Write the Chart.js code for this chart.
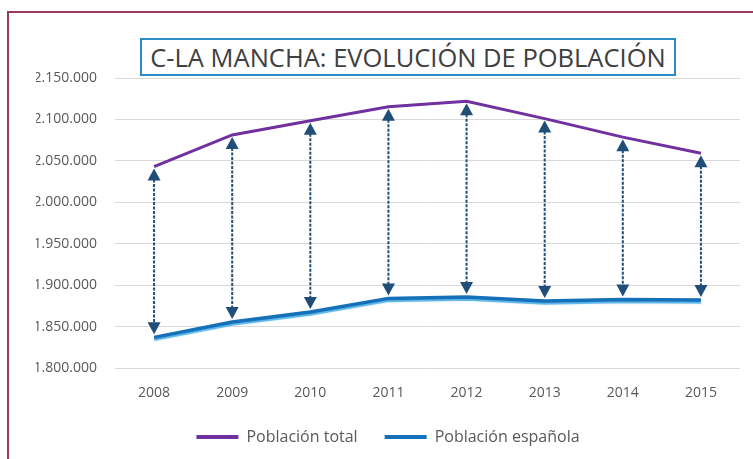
<!DOCTYPE html>
<html>
<head>
<meta charset="utf-8">
<script src="https://cdn.jsdelivr.net/npm/chart.js@4.4.1/dist/chart.umd.min.js"></script>
<style>
  html, body { margin: 0; padding: 0; background: #ffffff; }
  #wrap { position: relative; width: 753px; height: 459px; overflow: hidden; background: #fff; }
  #frameTop { position: absolute; left: 7px; top: 11px; width: 746px; height: 2px; background: #9c3a5c; }
  #frameLeft { position: absolute; left: 7px; top: 11px; width: 2px; height: 448px; background: #9c3a5c; }
  #title {
    position: absolute; left: 140px; top: 38px; width: 532px; height: 34px;
    border: 2px solid #2e8bc8; background: #fff;
    font-family: "Open Sans", sans-serif; font-size: 25.5px; color: #404040;
    text-align: center; line-height: 34px; white-space: nowrap; letter-spacing: 0px;
  }
  canvas { position: absolute; left: 0; top: 0; }
</style>
</head>
<body>
<div id="wrap">
  <canvas id="c" width="753" height="459"></canvas>
  <div id="frameTop"></div>
  <div id="frameLeft"></div>
  <div id="title">C-LA MANCHA: EVOLUCIÓN DE POBLACIÓN</div>
</div>
<script>
const years = ['2008', '2009', '2010', '2011', '2012', '2013', '2014', '2015'];
const poblacionTotal = [2043100, 2081313, 2098373, 2115334, 2121888, 2100998, 2078611, 2059191];
const poblacionEspanola = [1837000, 1855500, 1867600, 1884000, 1885700, 1880900, 1882800, 1882100];
const seriesNames = ['Población total', 'Población española'];
const yMin = 1800000, yMax = 2150000, yStep = 50000;

function fmt(v) {
  return String(Math.round(v)).replace(/\B(?=(\d{3})+(?!\d))/g, '.');
}

const arrowPlugin = {
  id: 'arrows',
  afterDatasetsDraw(chart) {
    const ctx = chart.ctx;
    const xs = chart.scales.x, ys = chart.scales.y;
    ctx.save();
    const col = '#1f4e79';
    years.forEach((yr, i) => {
      const x = xs.getPixelForValue(i);
      const yTop = ys.getPixelForValue(poblacionTotal[i]) + 2;
      const yBot = ys.getPixelForValue(poblacionEspanola[i]) - 3;
      const ah = 12, aw = 6.5;
      ctx.strokeStyle = col;
      ctx.lineWidth = 2;
      ctx.setLineDash([3, 1.5]);
      ctx.beginPath();
      ctx.moveTo(x, yTop + ah - 1);
      ctx.lineTo(x, yBot - ah + 1);
      ctx.stroke();
      ctx.setLineDash([]);
      ctx.fillStyle = col;
      ctx.beginPath();
      ctx.moveTo(x, yTop);
      ctx.lineTo(x - aw, yTop + ah);
      ctx.lineTo(x + aw, yTop + ah);
      ctx.closePath();
      ctx.fill();
      ctx.beginPath();
      ctx.moveTo(x, yBot);
      ctx.lineTo(x - aw, yBot - ah);
      ctx.lineTo(x + aw, yBot - ah);
      ctx.closePath();
      ctx.fill();
    });
    ctx.restore();
  }
};

const shadowPlugin = {
  id: 'lineShadow',
  beforeDatasetDraw(chart, args) {
    if (args.index === 1) {
      const ctx = chart.ctx;
      ctx.save();
      ctx.shadowColor = 'rgba(80,175,230,0.95)';
      ctx.shadowOffsetY = 2;
      ctx.shadowBlur = 1;
    }
  },
  afterDatasetDraw(chart, args) {
    if (args.index === 1) chart.ctx.restore();
  }
};

new Chart(document.getElementById('c'), {
  type: 'line',
  data: {
    labels: years,
    datasets: [
      { label: seriesNames[0], data: poblacionTotal, borderColor: '#7030a0', backgroundColor: '#7030a0',
        borderWidth: 3, pointRadius: 0, tension: 0, fill: false },
      { label: seriesNames[1], data: poblacionEspanola, borderColor: '#1470b8', backgroundColor: '#1470b8',
        borderWidth: 3.5, pointRadius: 0, tension: 0, fill: false }
    ]
  },
  options: {
    responsive: false,
    animation: false,
    devicePixelRatio: 1,
    layout: { padding: { top: 78, right: 13, left: 36, bottom: 4 } },
    plugins: {
      title: { display: false },
      tooltip: { enabled: false },
      legend: {
        position: 'bottom',
        labels: {
          boxWidth: 42, boxHeight: 4, padding: 27,
          color: '#595959',
          font: { family: 'Open Sans', size: 16 },
          generateLabels(chart) {
            return chart.data.datasets.map((d, i) => ({
              text: d.label, fillStyle: d.borderColor, strokeStyle: d.borderColor,
              lineWidth: 0, hidden: false, datasetIndex: i, fontColor: '#595959'
            }));
          }
        }
      }
    },
    scales: {
      x: {
        offset: true,
        grid: { display: false, drawTicks: false },
        border: { display: false },
        ticks: { color: '#595959', font: { family: 'Open Sans', size: 14 }, padding: 17 },
        afterFit(scale) { scale.height = 34; }
      },
      y: {
        min: yMin, max: yMax,
        grid: { color: '#d9d9d9', lineWidth: 1, drawTicks: false },
        border: { display: false },
        ticks: { stepSize: yStep, color: '#595959', font: { family: 'Open Sans', size: 14 }, padding: 18,
          callback: (v) => fmt(v) },
        afterFit(scale) { scale.width = 79; }
      }
    }
  },
  plugins: [shadowPlugin, arrowPlugin]
});
</script>
</body>
</html>
